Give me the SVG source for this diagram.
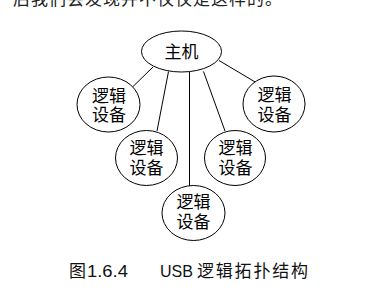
<svg xmlns="http://www.w3.org/2000/svg" width="374" height="303" viewBox="0 0 374 303">
  <style>
    .bg { fill: #ffffff; }
    .node { fill: #ffffff; stroke: #000000; stroke-width: 1; }
    .edge { stroke: #000000; stroke-width: 1; fill: none; }
    .label { font-family: "Liberation Sans", "Noto Sans CJK SC", sans-serif; font-size: 17px; fill: #000000; text-anchor: middle; }
    .body { font-family: "Liberation Sans", "Noto Sans CJK SC", sans-serif; font-size: 17px; fill: #222222; }
    .caption { font-family: "Liberation Sans", "Noto Sans CJK SC", sans-serif; font-size: 17px; fill: #111111; }
  </style>
  <rect class="bg" x="0" y="0" width="374" height="303"/>

  <!-- tail of the preceding paragraph line -->
  <text class="body" x="13" y="5" textLength="269" lengthAdjust="spacing">后我们会发现并不仅仅是这样的。</text>

  <!-- host-to-device links -->
  <g id="connectors">
    <line class="edge" x1="153" y1="67" x2="132.5" y2="87"/>
    <line class="edge" x1="168.5" y1="71.5" x2="157" y2="131"/>
    <line class="edge" x1="189.5" y1="72" x2="189.5" y2="186.5"/>
    <line class="edge" x1="203.5" y1="71.5" x2="225" y2="131"/>
    <line class="edge" x1="219" y1="60.5" x2="256" y2="82.5"/>
  </g>

  <g id="host">
    <ellipse class="node" cx="181.5" cy="51.5" rx="40" ry="20.5"/>
    <text class="label" x="181.5" y="57.5">主机</text>
  </g>

  <g id="device-1">
    <ellipse class="node" cx="108.5" cy="104.5" rx="31.5" ry="27.5"/>
    <text class="label" x="109" y="101.5">逻辑</text>
    <text class="label" x="109" y="121">设备</text>
  </g>

  <g id="device-2">
    <ellipse class="node" cx="146.5" cy="158" rx="31" ry="27.5"/>
    <text class="label" x="146.5" y="153.5">逻辑</text>
    <text class="label" x="146.5" y="173.5">设备</text>
  </g>

  <g id="device-3">
    <ellipse class="node" cx="193.5" cy="213" rx="31.5" ry="27.5"/>
    <text class="label" x="193.5" y="208">逻辑</text>
    <text class="label" x="193.5" y="228">设备</text>
  </g>

  <g id="device-4">
    <ellipse class="node" cx="235" cy="158" rx="30.5" ry="27.5"/>
    <text class="label" x="235.5" y="153.5">逻辑</text>
    <text class="label" x="235.5" y="173.5">设备</text>
  </g>

  <g id="device-5">
    <ellipse class="node" cx="274" cy="104" rx="31" ry="28"/>
    <text class="label" x="274.5" y="100.5">逻辑</text>
    <text class="label" x="274.5" y="120.5">设备</text>
  </g>

  <!-- figure caption -->
  <text class="caption" y="276.5">
    <tspan x="69">图</tspan>
    <tspan x="87" textLength="41" lengthAdjust="spacingAndGlyphs">1.6.4</tspan>
    <tspan x="160" textLength="33" lengthAdjust="spacingAndGlyphs">USB</tspan>
    <tspan x="197" textLength="111" lengthAdjust="spacing">逻辑拓扑结构</tspan>
  </text>
</svg>
